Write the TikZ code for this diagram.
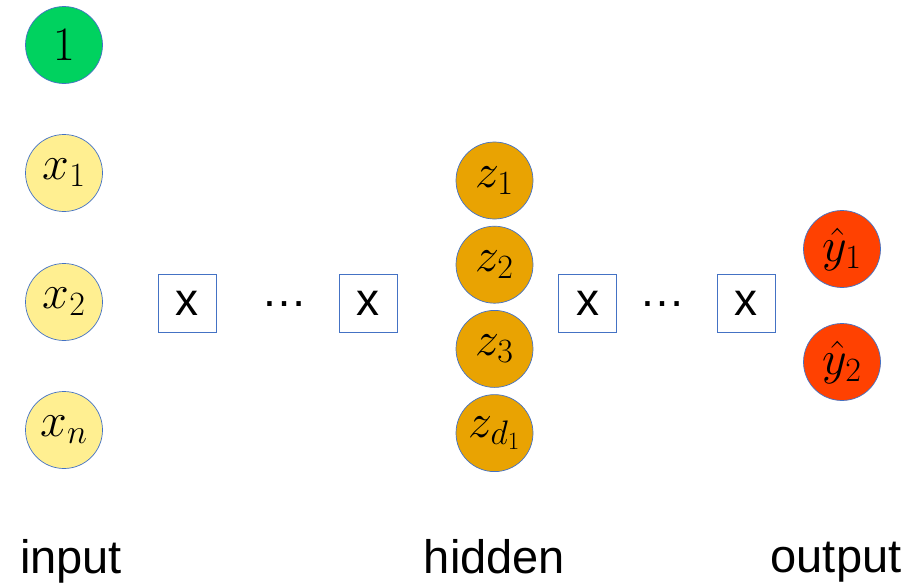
\RequirePackage{fix-cm}
\documentclass[tikz,border=0pt]{standalone}
\usepackage{amsmath, amssymb}
\usepackage{fontspec}
\newfontfamily\labelfont{Liberation Sans}
\usepackage{tikz}
\usetikzlibrary{positioning}

\definecolor{biasgreen}{RGB}{0,210,95}
\definecolor{inyellow}{RGB}{255,239,145}
\definecolor{hidorange}{RGB}{233,163,2}
\definecolor{outred}{RGB}{255,65,1}
\definecolor{edgeblue}{RGB}{68,114,196}

\DeclareMathSizes{48}{48}{34}{25}

\begin{document}
\begin{tikzpicture}[x=1pt, y=-1pt,
    unit/.style={circle, draw=edgeblue, line width=0.7pt, minimum size=77pt, inner sep=0pt, font=\fontsize{48}{52}\selectfont},
    inputnode/.style={unit, fill=inyellow},
    hiddennode/.style={unit, fill=hidorange},
    outputnode/.style={unit, fill=outred},
    opbox/.style={draw=edgeblue, line width=0.7pt, minimum width=58pt, minimum height=58pt, inner sep=0pt, font=\labelfont\fontsize{46}{50}\selectfont},
    dotsnode/.style={anchor=base, inner sep=0pt, font=\labelfont\fontsize{46}{50}\selectfont},
    layer/.style={anchor=base, inner sep=0pt, font=\labelfont\fontsize{47}{52}\selectfont}
]
\useasboundingbox (0,0) rectangle (907,582);

% Input layer - bias unit on top, inputs below
\node[unit, fill=biasgreen] (bias) at (64,45) {$1$};
\node[inputnode] (x1) at (64,173) {$x_1$};
\node[inputnode] (x2) at (64,302) {$x_2$};
\node[inputnode] (xn) at (64,430) {$x_n$};

% First block of operations - between input and hidden
\node[opbox] (op1) at (187,303) {x};
\node[dotsnode] (dots1) at (284.5,306) {…};
\node[opbox] (op2) at (368,303) {x};

% Hidden layer - stacked, nearly touching
\node[hiddennode] (z1) at (494.5,180.5) {$z_1$};
\node[hiddennode, below=6.5pt of z1] (z2) {$z_2$};
\node[hiddennode, below=6.5pt of z2] (z3) {$z_3$};
\node[hiddennode, below=6.5pt of z3] (zd) {$z_{d_1}$};

% Second block of operations - between hidden and output
\node[opbox] (op3) at (587.5,303) {x};
\node[dotsnode] (dots2) at (662.5,306) {…};
\node[opbox] (op4) at (746,303) {x};

% Output layer
\node[outputnode] (y1) at (842,249) {$\hat{y}_1$};
\node[outputnode] (y2) at (842,362) {$\hat{y}_2$};

% Layer labels - along the bottom
\node[layer] (inlabel) at (71,573) {input};
\node[layer] (hidlabel) at (zd |- inlabel.base) {hidden};
\node[layer] (outlabel) at (836,572) {output};

\end{tikzpicture}
\end{document}
